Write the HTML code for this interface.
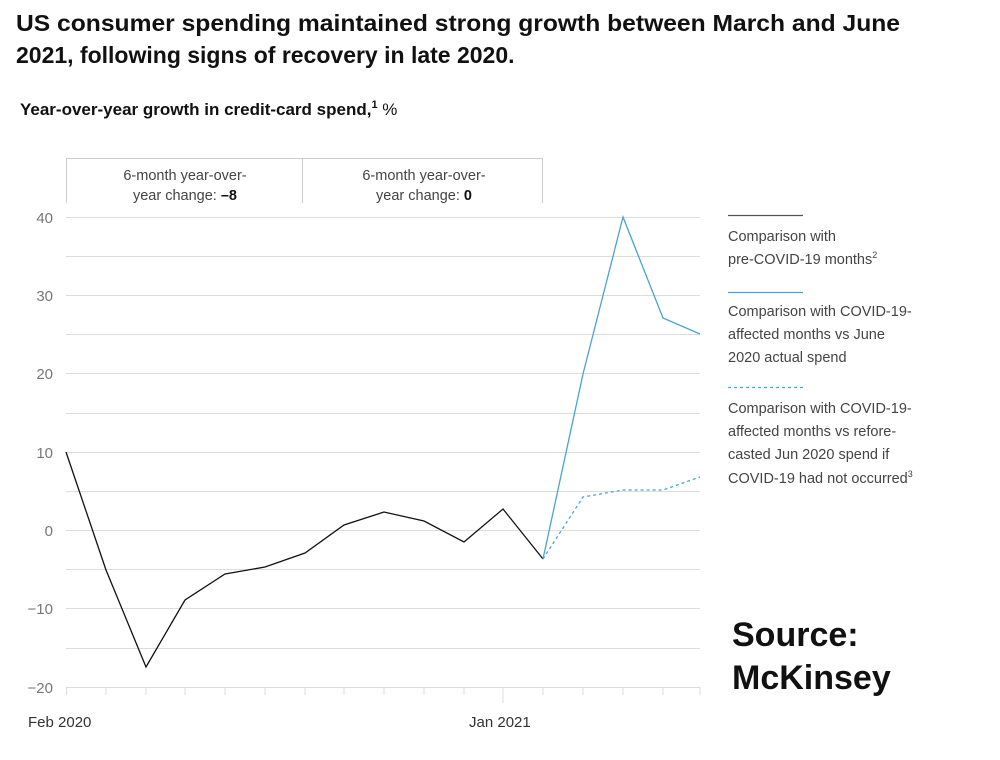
<!DOCTYPE html>
<html><head><meta charset="utf-8"><style>
body{margin:0;width:1000px;height:755px;background:#fff;overflow:hidden;font-family:"Liberation Sans",sans-serif}
</style></head><body>
<svg width="1000" height="755" xmlns="http://www.w3.org/2000/svg" font-family="Liberation Sans, sans-serif">
<text x="16" y="31" font-size="23" font-weight="bold" fill="#111" textLength="884" lengthAdjust="spacingAndGlyphs">US consumer spending maintained strong growth between March and June</text>
<text x="16" y="63" font-size="23" font-weight="bold" fill="#111">2021, following signs of recovery in late 2020.</text>
<text x="20" y="115" font-size="17" fill="#111" font-weight="bold">Year-over-year growth in credit-card spend,<tspan font-size="11" dy="-7">1</tspan><tspan dy="7" font-weight="normal"> %</tspan></text>
<g stroke="#ccc" stroke-width="1">
<line x1="66.5" y1="158" x2="66.5" y2="203"/><line x1="302.5" y1="158" x2="302.5" y2="203"/><line x1="542.5" y1="158" x2="542.5" y2="203"/>
<line x1="66" y1="158.5" x2="543" y2="158.5"/>
</g>
<g font-size="14.5" fill="#444" text-anchor="middle">
<text x="185" y="180">6-month year-over-</text><text x="185" y="200">year change: <tspan font-weight="bold" fill="#111">–8</tspan></text>
<text x="424" y="180">6-month year-over-</text><text x="424" y="200">year change: <tspan font-weight="bold" fill="#111">0</tspan></text>
</g>
<g stroke="#ddd" stroke-width="1">
<line x1="66" y1="217.5" x2="700" y2="217.5"/><line x1="66" y1="256.5" x2="700" y2="256.5"/><line x1="66" y1="295.5" x2="700" y2="295.5"/><line x1="66" y1="334.5" x2="700" y2="334.5"/><line x1="66" y1="373.5" x2="700" y2="373.5"/><line x1="66" y1="413.5" x2="700" y2="413.5"/><line x1="66" y1="452.5" x2="700" y2="452.5"/><line x1="66" y1="491.5" x2="700" y2="491.5"/><line x1="66" y1="530.5" x2="700" y2="530.5"/><line x1="66" y1="569.5" x2="700" y2="569.5"/><line x1="66" y1="608.5" x2="700" y2="608.5"/><line x1="66" y1="648.5" x2="700" y2="648.5"/><line x1="66" y1="687.5" x2="700" y2="687.5"/>
<path d="M66.5 687v8M106 687v8M146 687v8M185 687v8M225 687v8M265 687v8M305 687v8M344 687v8M384 687v8M424 687v8M464 687v8M543 687v8M583 687v8M623 687v8M663 687v8M700 687v8"/>
<path d="M503 687v16"/>
</g>
<g font-size="15" fill="#777" text-anchor="end">
<text x="53" y="223">40</text><text x="53" y="301">30</text><text x="53" y="379">20</text><text x="53" y="458">10</text><text x="53" y="536">0</text><text x="53" y="614">−10</text><text x="53" y="693">−20</text>
</g>
<text x="28" y="727" font-size="15" fill="#333">Feb 2020</text>
<text x="469" y="727" font-size="15" fill="#333">Jan 2021</text>
<polyline fill="none" stroke="#111" stroke-width="1.3" points="66,452 106,570 146,667 185,600 225,574 265,567 305,553 344,525 384,512 424,521 464,542 503,509 543,559"/>
<polyline fill="none" stroke="#4aa3d4" stroke-width="1.3" points="543,559 583,374 623,217 663,318 700,334"/>
<polyline fill="none" stroke="#4aa3d4" stroke-width="1.3" stroke-dasharray="3,3" points="543,559 583,497 623,490 663,490 700,477"/>
<line x1="728" y1="215.5" x2="803" y2="215.5" stroke="#555" stroke-width="1.3"/>
<line x1="728" y1="292.5" x2="803" y2="292.5" stroke="#4aa3d4" stroke-width="1.3"/>
<line x1="728" y1="387.5" x2="803" y2="387.5" stroke="#4aa3d4" stroke-width="1.3" stroke-dasharray="3,3"/>
<g font-size="14.5" fill="#444">
<text x="728" y="241">Comparison with</text><text x="728" y="264">pre-COVID-19 months<tspan font-size="9" dy="-6">2</tspan></text>
<text x="728" y="316">Comparison with COVID-19-</text><text x="728" y="339">affected months vs June</text><text x="728" y="362">2020 actual spend</text>
<text x="728" y="413">Comparison with COVID-19-</text><text x="728" y="436">affected months vs refore-</text><text x="728" y="459">casted Jun 2020 spend if</text><text x="728" y="483">COVID-19 had not occurred<tspan font-size="9" dy="-6">3</tspan></text>
</g>
<text x="732" y="646" font-size="34" font-weight="bold" fill="#111">Source:</text>
<text x="732" y="689" font-size="34" font-weight="bold" fill="#111">McKinsey</text>
</svg>
</body></html>
